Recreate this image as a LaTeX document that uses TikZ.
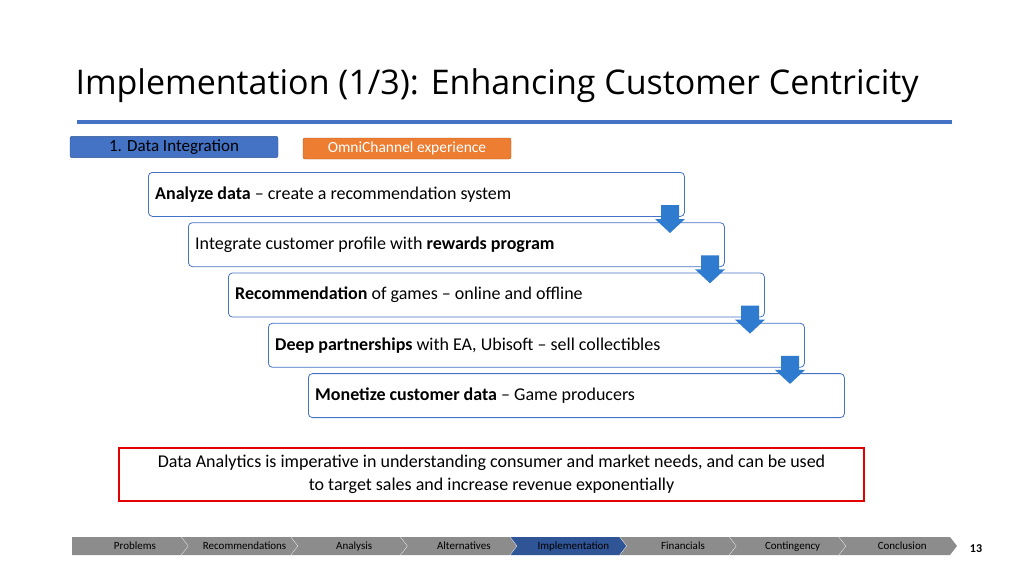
\documentclass[tikz,border=0pt]{standalone}
\usepackage{fontspec}
\setmainfont{Carlito}
\newfontfamily\titlefont{Open Sans}
\begin{document}
\begin{tikzpicture}[x=1pt,y=-1pt,
  stepbox/.style={draw=bl,rounded corners=4pt,line width=0.8pt,minimum width=536pt,minimum height=44pt,anchor=north west},
  steptext/.style={anchor=west,font=\fontsize{18}{21}\selectfont,inner sep=0pt},
  navt/.style={font=\fontsize{11}{12}\selectfont,text height=8pt,text depth=2pt}]
\useasboundingbox (0,0) rectangle (1024,575);
\definecolor{bl}{HTML}{4472C4}
\definecolor{ar}{HTML}{2E7BCF}
\definecolor{nb}{HTML}{2F5597}
\definecolor{og}{HTML}{ED7D31}
\node[anchor=west,font=\titlefont\fontsize{34}{40}\selectfont] (title) at (72,86) {Implementation (1/3): Enhancing Customer Centricity};
\draw[bl,line width=4pt] (77,122) -- (952,122);
\node[fill=bl,draw=nb,rounded corners=2pt,minimum width=208pt,minimum height=20pt,font=\fontsize{17}{18}\selectfont] (di) at (174,147) {1. Data Integration};
\node[fill=og,draw=og!70!black,rounded corners=2pt,minimum width=208pt,minimum height=21pt,text=white,font=\fontsize{15.5}{18}\selectfont] (oc) at (407,148.5) {OmniChannel experience};
\foreach \i/\t in {0/{\textbf{Analyze data} – create a recommendation system},
 1/{Integrate customer profile with \textbf{rewards program}},
 2/{\textbf{Recommendation} of games – online and offline},
 3/{\textbf{Deep partnerships} with EA, Ubisoft – sell collectibles},
 4/{\textbf{Monetize customer data} – Game producers}}{
  \node[stepbox] (s\i) at (148+40*\i,172+50.3*\i) {};
  \node[steptext] (t\i) at ([xshift=7pt]s\i.west) {\t};
}
\foreach \i in {0,1,2,3}{
  \fill[ar] (661+40*\i,205+50.3*\i) -- (679+40*\i,205+50.3*\i) -- (679+40*\i,219+50.3*\i) -- (685+40*\i,219+50.3*\i) -- (670+40*\i,233+50.3*\i) -- (655+40*\i,219+50.3*\i) -- (661+40*\i,219+50.3*\i) -- cycle;
}
\node[draw=red!90!black,line width=1.8pt,minimum width=745pt,minimum height=53pt,align=center,font=\fontsize{18}{23}\selectfont] (note) at (491.5,474.5) {Data Analytics is imperative in understanding consumer and market needs, and can be used\\to target sales and increase revenue exponentially};
\foreach \i/\t in {0/Problems,1/Recommendations,2/Analysis,3/Alternatives,4/Implementation,5/Financials,6/Contingency,7/Conclusion}{
  \pgfmathsetmacro\xa{72+109.6*\i}
  \pgfmathsetmacro\xb{\xa+109.6}
  \ifnum\i=4 \def\fc{nb}\else\def\fc{gray!90}\fi
  \ifnum\i=0
    \fill[\fc] (\xa,537) -- (\xb,537) -- (\xb+7,546) -- (\xb,555) -- (\xa,555) -- cycle;
  \else\ifnum\i=7
    \fill[\fc] (\xa,537) -- (950,537) -- (957,546) -- (950,555) -- (\xa,555) -- (\xa+7,546) -- cycle;
  \else
    \fill[\fc] (\xa,537) -- (\xb,537) -- (\xb+7,546) -- (\xb,555) -- (\xa,555) -- (\xa+7,546) -- cycle;
  \fi\fi
  \ifnum\i<7 \draw[white,line width=0.8pt] (\xb,537) -- (\xb+7,546) -- (\xb,555);\fi
  \node[navt] (n\i) at (\xa+63,546) {\t};
}
\node[font=\bfseries\fontsize{12}{14}\selectfont] (pg) at (976,549) {13};
\end{tikzpicture}
\end{document}
